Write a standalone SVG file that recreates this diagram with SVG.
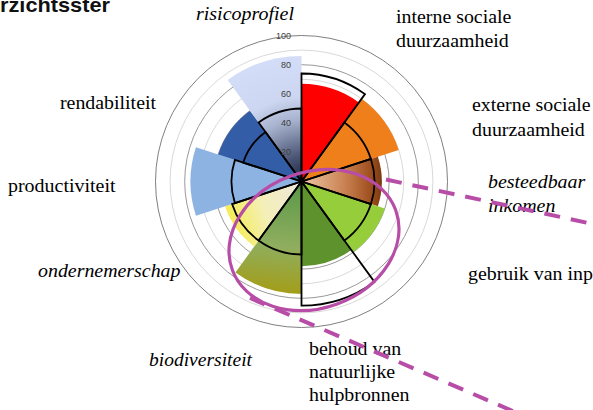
<svg xmlns="http://www.w3.org/2000/svg" width="593" height="410" viewBox="0 0 593 410">
<defs>
<style>
.grid-l{fill:none;stroke:#D9D9D9;stroke-width:1}
.grid-d{fill:none;stroke:#999999;stroke-width:1}
.grid-o{fill:none;stroke:#808080;stroke-width:1}
.ol{fill:none;stroke:#000;stroke-width:1.8;stroke-linejoin:miter}
.ax{font-family:"Liberation Sans",Arial,sans-serif;font-size:9px;fill:#404040;text-anchor:end}
.mag{fill:none;stroke:#B84DA8;stroke-width:3.2}
.dash{fill:none;stroke:#B84DA8;stroke-width:4;stroke-dasharray:16 11}
</style>
<linearGradient id="gBrown" gradientUnits="userSpaceOnUse" x1="301" y1="181" x2="382" y2="181">
<stop offset="0" stop-color="#EDC7A8"/>
<stop offset="0.55" stop-color="#C98050"/>
<stop offset="0.88" stop-color="#9C4C1C"/>
<stop offset="1" stop-color="#7A3A12"/>
</linearGradient>
<linearGradient id="gOlive" gradientUnits="userSpaceOnUse" x1="300" y1="190" x2="288" y2="295">
<stop offset="0" stop-color="#5F9A4A"/>
<stop offset="0.55" stop-color="#8FAE5E"/>
<stop offset="1" stop-color="#A49D16"/>
</linearGradient>
<linearGradient id="gYellow" gradientUnits="userSpaceOnUse" x1="226" y1="215" x2="298" y2="190">
<stop offset="0" stop-color="#F4EC50"/>
<stop offset="0.5" stop-color="#F4EFB8"/>
<stop offset="1" stop-color="#EEE8D6"/>
</linearGradient>
<radialGradient id="gPale" gradientUnits="userSpaceOnUse" cx="301.5" cy="181.5" r="125.6" fx="305" fy="184">
<stop offset="0" stop-color="#18203A"/>
<stop offset="0.22" stop-color="#4A5575"/>
<stop offset="0.5" stop-color="#A6B1CD"/>
<stop offset="0.68" stop-color="#CCD6F1"/>
<stop offset="1" stop-color="#D3DDF7"/>
</radialGradient>
</defs>
<rect width="593" height="410" fill="#FFFFFF"/>

<text x="0" y="12" font-family="'Liberation Sans',Arial,sans-serif" font-size="21" font-weight="bold" fill="#111" textLength="110" lengthAdjust="spacingAndGlyphs">rzichtsster</text>

<g id="grid">
<circle class="grid-l" cx="301.5" cy="181.5" r="14.6"/>
<circle class="grid-d" cx="301.5" cy="181.5" r="29.2"/>
<circle class="grid-l" cx="301.5" cy="181.5" r="43.8"/>
<circle class="grid-d" cx="301.5" cy="181.5" r="58.4"/>
<circle class="grid-l" cx="301.5" cy="181.5" r="73"/>
<circle class="grid-d" cx="301.5" cy="181.5" r="87.6"/>
<circle class="grid-l" cx="301.5" cy="181.5" r="102.2"/>
<circle class="grid-d" cx="301.5" cy="181.5" r="116.8"/>
<circle class="grid-l" cx="301.5" cy="181.5" r="131.4"/>
<circle class="grid-o" cx="301.5" cy="181.5" r="146"/>
</g>

<g id="fills">
<path id="fill-interne" fill="#FF0000" d="M301.5,181.5 L301.5,83.7 A97.8,97.8 0 0 1 358.99,102.38 Z"/>
<path id="fill-externe" fill="#EE7F1B" d="M301.5,181.5 L361.57,98.82 A102.2,102.2 0 0 1 398.7,149.92 Z"/>
<path id="fill-besteedbaar" fill="url(#gBrown)" d="M301.5,181.5 L377.87,156.69 A80.3,80.3 0 0 1 377.87,206.31 Z"/>
<path id="fill-input" fill="#95CE3A" d="M301.5,181.5 L384.82,208.57 A87.6,87.6 0 0 1 352.99,252.37 Z"/>
<path id="fill-behoud" fill="#5E922C" d="M301.5,181.5 L351.29,250.02 A84.7,84.7 0 0 1 301.5,266.2 Z"/>
<path id="fill-biodiversiteit" fill="url(#gOlive)" d="M301.5,181.5 L301.5,293.9 A112.4,112.4 0 0 1 235.43,272.43 Z"/>
<path id="fill-ondernemerschap" fill="url(#gYellow)" d="M301.5,181.5 L254.3,246.46 A80.3,80.3 0 0 1 225.13,206.31 Z"/>
<path id="fill-productiviteit" fill="#8DB3E2" d="M301.5,181.5 L195.93,215.8 A111,111 0 0 1 195.93,147.2 Z"/>
<path id="fill-rendabiliteit" fill="#345DA7" d="M301.5,181.5 L218.18,154.43 A87.6,87.6 0 0 1 250.01,110.63 Z"/>
<path id="fill-risicoprofiel" fill="url(#gPale)" d="M301.5,181.5 L227.67,79.89 A125.6,125.6 0 0 1 301.5,55.9 Z"/>
</g>

<g id="outlines">
<path class="ol" d="M301.5,181.5 L301.5,73.5 A108,108 0 0 1 364.98,94.13 Z"/>
<path class="ol" d="M301.5,181.5 L344.41,122.44 A73,73 0 0 1 370.93,158.94 Z"/>
<path class="ol" d="M301.5,181.5 L370.93,158.94 A73,73 0 0 1 370.93,204.06 Z"/>
<path class="ol" d="M301.5,181.5 L370.93,204.06 A73,73 0 0 1 344.41,240.56 Z"/>
<path class="ol" d="M301.5,181.5 L374.45,281.9 A124.1,124.1 0 0 1 301.5,305.6 Z"/>
<path class="ol" d="M301.5,181.5 L301.5,254.5 A73,73 0 0 1 258.59,240.56 Z"/>
<path class="ol" d="M301.5,181.5 L258.59,240.56 A73,73 0 0 1 232.07,204.06 Z"/>
<path class="ol" d="M301.5,181.5 L234.92,203.13 A70,70 0 0 1 234.92,159.87 Z"/>
<path class="ol" d="M301.5,181.5 L243.2,162.56 A61.3,61.3 0 0 1 265.47,131.91 Z"/>
<path class="ol" d="M301.5,181.5 L258.59,122.44 A73,73 0 0 1 301.5,108.5 Z"/>
</g>

<g id="axis-labels">
<text class="ax" x="291" y="155.3">20</text>
<text class="ax" x="291" y="126.1">40</text>
<text class="ax" x="291" y="96.9">60</text>
<text class="ax" x="291" y="67.7">80</text>
<text class="ax" x="291" y="38.5">100</text>
</g>

<g id="labels" font-family="'Liberation Serif','DejaVu Serif',serif" font-size="18" fill="#000">
<g id="lab-risicoprofiel"><text font-style="italic" x="196" y="20" textLength="98" lengthAdjust="spacingAndGlyphs">risicoprofiel</text></g>
<g id="lab-interne"><text x="396" y="23" textLength="115.4" lengthAdjust="spacingAndGlyphs">interne sociale</text><text x="396" y="47" textLength="112.7" lengthAdjust="spacingAndGlyphs">duurzaamheid</text></g>
<g id="lab-externe"><text x="472" y="111" textLength="118.7" lengthAdjust="spacingAndGlyphs">externe sociale</text><text x="472" y="136" textLength="112.7" lengthAdjust="spacingAndGlyphs">duurzaamheid</text></g>
<g id="lab-besteedbaar"><text font-style="italic" x="488" y="188" textLength="97.2" lengthAdjust="spacingAndGlyphs">besteedbaar</text><text font-style="italic" x="488" y="212" textLength="67.4" lengthAdjust="spacingAndGlyphs">inkomen</text></g>
<g id="lab-input"><text x="468" y="280" textLength="140.3" lengthAdjust="spacingAndGlyphs">gebruik van input</text></g>
<g id="lab-behoud"><text x="309" y="355" textLength="92.2" lengthAdjust="spacingAndGlyphs">behoud van</text><text x="309" y="378" textLength="86.2" lengthAdjust="spacingAndGlyphs">natuurlijke</text><text x="309" y="401" textLength="100.5" lengthAdjust="spacingAndGlyphs">hulpbronnen</text></g>
<g id="lab-biodiversiteit"><text font-style="italic" x="149" y="366" textLength="103" lengthAdjust="spacingAndGlyphs">biodiversiteit</text></g>
<g id="lab-ondernemerschap"><text font-style="italic" x="38" y="277" textLength="142.5" lengthAdjust="spacingAndGlyphs">ondernemerschap</text></g>
<g id="lab-productiviteit"><text x="8" y="192" textLength="107.5" lengthAdjust="spacingAndGlyphs">productiviteit</text></g>
<g id="lab-rendabiliteit"><text x="60" y="109" textLength="96" lengthAdjust="spacingAndGlyphs">rendabiliteit</text></g>
</g>

<g id="connectors">
<ellipse class="mag" cx="314" cy="240" rx="87" ry="68" transform="rotate(-20 314 240)"/>
<path class="dash" d="M386,179.5 L600,225.5"/>
<path class="dash" d="M250,298 L522,415"/>
</g>
</svg>
